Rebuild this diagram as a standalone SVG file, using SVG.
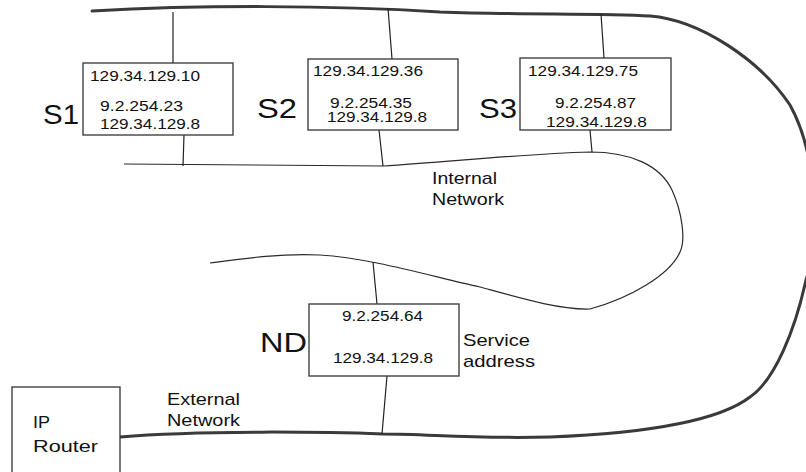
<svg xmlns="http://www.w3.org/2000/svg" width="806" height="472" viewBox="0 0 806 472">
<style>
.net{fill:none;stroke:#3a3a3a;stroke-width:3;stroke-linecap:round}
.inet{fill:none;stroke:#2a2a2a;stroke-width:1.2}
.link{stroke:#222;stroke-width:1.2}
.box{fill:#fff;stroke:#333;stroke-width:1.3}
text{font-family:"Liberation Sans",Arial,sans-serif;fill:#111}
.ip{font-size:14px}
.lbl{font-size:17px}
.big{font-size:28px}
</style>
<rect width="806" height="472" fill="#fff"/>
<g id="connectors">
<path class="net" d="M92,11 C200,5 330,5 440,12 C520,15 600,13 650,16 C700,20 760,60 790,105 C815,150 822,230 806,280 C795,330 775,380 750,397 C720,420 650,433 550,437 C470,439 430,434 383,434 C330,432 200,430 120,437"/>
<path class="inet" d="M124,164 L383,166 C450,162 520,154 590,152 C630,152 660,165 672,190 C682,212 686,240 680,252 C670,275 630,298 590,309 C560,310 520,298 480,287 C430,276 370,258 320,255 C280,253 240,259 210,263"/>
<line class="link" x1="173" y1="12" x2="173" y2="63"/>
<line class="link" x1="184" y1="135" x2="183" y2="166"/>
<line class="link" x1="388" y1="8" x2="392" y2="59"/>
<line class="link" x1="379" y1="130" x2="383" y2="166"/>
<line class="link" x1="601" y1="14" x2="604" y2="58"/>
<line class="link" x1="590" y1="130" x2="592" y2="152"/>
<line class="link" x1="373" y1="262" x2="377" y2="304"/>
<line class="link" x1="387" y1="376" x2="382" y2="434"/>
</g>
<g id="S1">
<rect class="box" x="83" y="63" width="150" height="72"/>
<text class="ip" x="90" y="81" textLength="110" lengthAdjust="spacingAndGlyphs">129.34.129.10</text>
<text class="ip" x="100" y="111" textLength="83" lengthAdjust="spacingAndGlyphs">9.2.254.23</text>
<text class="ip" x="100" y="129" textLength="100" lengthAdjust="spacingAndGlyphs">129.34.129.8</text>
<text class="big" x="43" y="124" textLength="36" lengthAdjust="spacingAndGlyphs">S1</text>
</g>
<g id="S2">
<rect class="box" x="308" y="59" width="150" height="71"/>
<text class="ip" x="313" y="76" textLength="110" lengthAdjust="spacingAndGlyphs">129.34.129.36</text>
<text class="ip" x="330" y="108" textLength="82" lengthAdjust="spacingAndGlyphs">9.2.254.35</text>
<text class="ip" x="327" y="122" textLength="100" lengthAdjust="spacingAndGlyphs">129.34.129.8</text>
<text class="big" x="257" y="118" textLength="40" lengthAdjust="spacingAndGlyphs">S2</text>
</g>
<g id="S3">
<rect class="box" x="520" y="58" width="151" height="72"/>
<text class="ip" x="528" y="76" textLength="110" lengthAdjust="spacingAndGlyphs">129.34.129.75</text>
<text class="ip" x="555" y="108" textLength="81" lengthAdjust="spacingAndGlyphs">9.2.254.87</text>
<text class="ip" x="546" y="127" textLength="101" lengthAdjust="spacingAndGlyphs">129.34.129.8</text>
<text class="big" x="479" y="118" textLength="38" lengthAdjust="spacingAndGlyphs">S3</text>
</g>
<g id="ND">
<rect class="box" x="309" y="304" width="150" height="72"/>
<text class="ip" x="342" y="321" textLength="81" lengthAdjust="spacingAndGlyphs">9.2.254.64</text>
<text class="ip" x="333" y="363" textLength="100" lengthAdjust="spacingAndGlyphs">129.34.129.8</text>
<text class="big" x="260" y="352" textLength="47" lengthAdjust="spacingAndGlyphs">ND</text>
<text class="lbl" x="463" y="346" textLength="67" lengthAdjust="spacingAndGlyphs">Service</text>
<text class="lbl" x="463" y="367" textLength="72" lengthAdjust="spacingAndGlyphs">address</text>
</g>
<g id="router">
<rect class="box" x="12" y="387" width="108" height="100"/>
<text class="lbl" x="33" y="428" textLength="17" lengthAdjust="spacingAndGlyphs">IP</text>
<text class="lbl" x="33" y="452" textLength="65" lengthAdjust="spacingAndGlyphs">Router</text>
</g>
<g id="labels">
<text class="lbl" x="432" y="184" textLength="65" lengthAdjust="spacingAndGlyphs">Internal</text>
<text class="lbl" x="432" y="205" textLength="72" lengthAdjust="spacingAndGlyphs">Network</text>
<text class="lbl" x="167" y="405" textLength="73" lengthAdjust="spacingAndGlyphs">External</text>
<text class="lbl" x="167" y="426" textLength="73" lengthAdjust="spacingAndGlyphs">Network</text>
</g>
</svg>
